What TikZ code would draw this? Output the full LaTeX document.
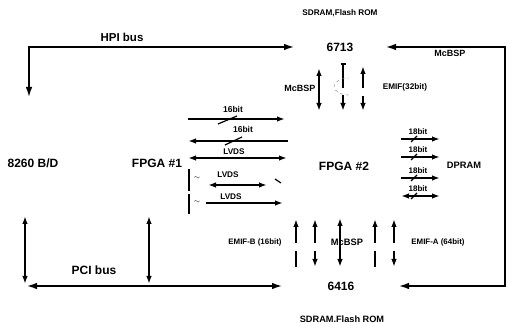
\documentclass[tikz,border=0pt]{standalone}
\usepackage{fontspec}
\setmainfont{Liberation Sans}
\usetikzlibrary{arrows.meta}
\tikzset{lbl/.style={font=\bfseries\fontsize{#1}{#1}\selectfont,inner sep=0pt},
  arr/.style={-{Latex[length=8pt,width=5.5pt]},line width=1.8pt},
  darr/.style={{Latex[length=8pt,width=5.5pt]}-{Latex[length=8pt,width=5.5pt]},line width=1.8pt},
  busarr/.style={{Latex[length=11pt,width=6.5pt]}-{Latex[length=11pt,width=6.5pt]},line width=2.2pt},
  stub/.style={line width=1.6pt},
  tick/.style={line width=1.2pt}}

\begin{document}
\begin{tikzpicture}[x=1pt,y=-1pt]
\useasboundingbox (0,0) rectangle (507,323);
% blocks and texts
\node[lbl=8.2] (romA) at (340,13) {SDRAM,Flash ROM};
\node[lbl=12] (dspA) at (340,47) {6713};
\node[lbl=11.5] (hpi) at (122,37) {HPI bus};
\node[lbl=9] (mcA) at (450,53) {McBSP};
\node[lbl=9] (mcB) at (300,88) {McBSP};
\node[lbl=8.2] (emifA) at (405,87) {EMIF(32bit)};
\node[lbl=12] (mpc) at (33,163) {8260 B/D};
\node[lbl=12] (fpgaA) at (157,163) {FPGA \#1};
\node[lbl=12] (fpgaB) at (344,166) {FPGA \#2};
\node[lbl=9.3] (dpram) at (464,165) {DPRAM};
\node[lbl=12] (pci) at (94,270) {PCI bus};
\node[lbl=7.9] (emifB) at (255,242) {EMIF-B (16bit)};
\node[lbl=9.3] (mcC) at (347,242) {McBSP};
\node[lbl=7.9] (emifC) at (438,242) {EMIF-A (64bit)};
\node[lbl=12] (dspB) at (341,286) {6416};
\node[lbl=9.2] (romB) at (342,319) {SDRAM.Flash ROM};

% HPI bus and McBSP loop
\coordinate (hpiD) at (29,98);
\coordinate (hpiC) at (29,47);
\coordinate (hpiE) at (295,47);
\draw[busarr] (hpiD) -- (hpiC) -- (hpiE);
\coordinate (loopA) at (385,47);
\coordinate (loopT) at (505,47);
\coordinate (loopB) at (505,286);
\coordinate (loopC) at (398,286);
\draw[busarr] (loopC) -- (loopB) -- (loopT) -- (loopA);

% PCI bus
\coordinate (pciL) at (26,286);
\coordinate (pciE) at (283,286);
\draw[busarr] (pciL) -- (pciE);
\coordinate (pciA) at (25,216);
\coordinate (pciB) at (25,284);
\coordinate (pciC) at (149,216);
\coordinate (pciD) at (149,284);
\draw[darr] (pciA) -- (pciB);
\draw[darr] (pciC) -- (pciD);

% 6713 <-> FPGA #2
\coordinate (uA1) at (319,68); \coordinate (uA2) at (319,111);
\draw[darr] (uA1) -- (uA2);
\coordinate (uB1) at (343,63); \coordinate (uB2) at (343,88);
\coordinate (uB3) at (343,95); \coordinate (uB4) at (343,111);
\draw[stub,{Bar[width=5pt]}-] (uB1) -- (uB2);
\draw[arr] (uB3) -- (uB4);
\coordinate (uC1) at (363,66); \coordinate (uC2) at (363,88);
\coordinate (uC3) at (363,96); \coordinate (uC4) at (363,111);
\draw[arr] (uC2) -- (uC1);
\draw[arr] (uC3) -- (uC4);
\coordinate (elB) at (349,95);
\draw[dashed,thin,gray] (elB) arc[start angle=90,end angle=270,x radius=15,y radius=8.5];

% FPGA #2 <-> 6416
\coordinate (lt3) at (340,218); \coordinate (lb3) at (340,267);
\draw[darr] (lt3) -- (lb3);
\foreach \i/\x/\lo in {1/296/stub,2/315/arr,4/375/stub,5/394/arr}{
  \coordinate (lt\i) at (\x,219); \coordinate (lm\i) at (\x,243);
  \coordinate (ln\i) at (\x,251); \coordinate (lb\i) at (\x,267);
  \draw[arr] (lm\i) -- (lt\i);
  \draw[\lo] (ln\i) -- (lb\i);}

% FPGA #2 -> DPRAM
\foreach \n/\y/\s in {a/139/arr,b/157/arr,c/178/arr,d/196/darr}{
  \coordinate (dpL\n) at (401,\y); \coordinate (dpR\n) at (440,\y);
  \draw[\s] (dpL\n) -- (dpR\n);
  \coordinate (dsA\n) at (411,\y+3); \coordinate (dsB\n) at (417,\y-3);
  \draw[tick] (dsA\n) -- (dsB\n);
  \node[lbl=8] (dpT\n) at (418,\y-7) {18bit};}

% FPGA #1 <-> FPGA #2
\coordinate (aL1) at (188,119); \coordinate (aR1) at (285,119);
\draw[arr] (aL1) -- (aR1);
\coordinate (sA1) at (218,124); \coordinate (sB1) at (237,116);
\draw[tick] (sA1) -- (sB1);
\node[lbl=8.5] (bitA) at (233,109) {16bit};
\coordinate (aL2) at (188,141); \coordinate (aR2) at (288,141);
\draw[arr] (aR2) -- (aL2);
\coordinate (sA2) at (225,145); \coordinate (sB2) at (242,137);
\draw[tick] (sA2) -- (sB2);
\node[lbl=8.5] (bitB) at (243,129) {16bit};
\coordinate (aL3) at (188,158); \coordinate (aR3) at (287,158);
\draw[darr] (aL3) -- (aR3);
\node[lbl=8.2] (lvA) at (234,152) {LVDS};
\coordinate (brA) at (189,169); \coordinate (brB) at (189,191);
\coordinate (brC) at (189,194); \coordinate (brD) at (189,214);
\draw[tick] (brA) -- (brB);
\draw[tick] (brC) -- (brD);
\node[font=\scriptsize] (swA) at (197,178) {$\sim$};
\node[font=\scriptsize] (swB) at (197,202) {$\sim$};
\coordinate (aL4) at (208,185); \coordinate (aR4) at (267,185);
\draw[darr] (aL4) -- (aR4);
\node[lbl=8.2] (lvB) at (228,175) {LVDS};
\coordinate (mkA) at (275,179); \coordinate (mkB) at (281,183);
\draw[tick] (mkA) -- (mkB);
\coordinate (aL5) at (206,203); \coordinate (aR5) at (283,203);
\draw[arr] (aL5) -- (aR5);
\node[lbl=8.2] (lvC) at (231,197) {LVDS};
\end{tikzpicture}
\end{document}
